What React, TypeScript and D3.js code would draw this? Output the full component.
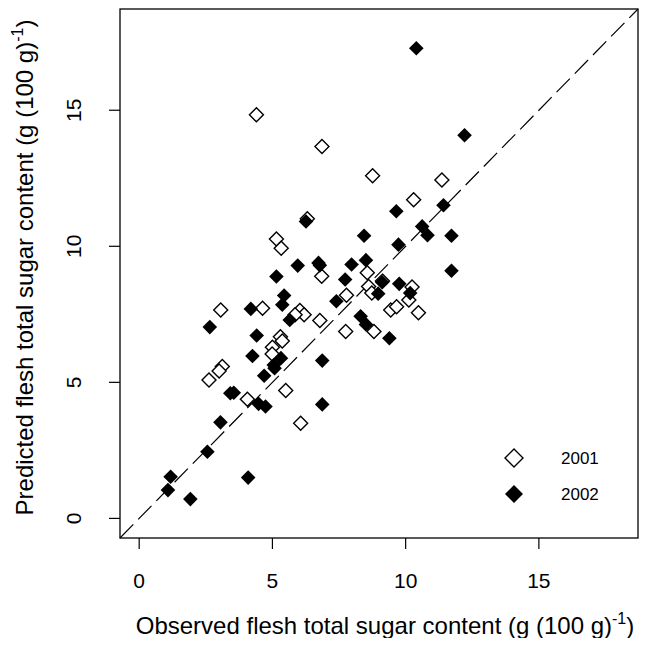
import * as d3 from 'd3'

const obs2001 = [4.4, 6.86, 8.76, 11.36, 10.3, 6.31, 5.15, 5.33, 8.56, 6.85, 8.61, 9.13, 10.24, 10.12, 8.73, 7.78, 3.06, 4.63, 6.03, 6.19, 5.85, 6.78, 9.44, 9.66, 10.48, 8.81, 7.75, 5.3, 5.37, 5.0, 4.99, 3.12, 3.0, 2.62, 5.5, 4.06, 6.06]
const pred2001 = [14.83, 13.67, 12.59, 12.44, 11.71, 11.01, 10.27, 9.93, 9.03, 8.9, 8.52, 8.72, 8.5, 8.03, 8.28, 8.2, 7.66, 7.72, 7.64, 7.48, 7.48, 7.27, 7.66, 7.78, 7.56, 6.87, 6.87, 6.68, 6.52, 6.29, 6.04, 5.58, 5.42, 5.09, 4.7, 4.38, 3.5]

const obs2002 = [10.4, 12.21, 6.26, 8.44, 9.65, 11.42, 10.62, 10.82, 11.72, 9.73, 5.95, 6.73, 6.78, 7.97, 8.51, 5.15, 7.73, 9.12, 9.76, 10.17, 8.97, 11.72, 4.19, 5.44, 5.37, 7.4, 5.65, 8.31, 8.51, 9.39, 2.65, 4.41, 5.32, 4.25, 5.05, 5.08, 6.87, 4.69, 3.42, 3.55, 4.48, 4.74, 6.87, 3.05, 2.56, 1.18, 1.08, 1.92, 4.09]
const pred2002 = [17.28, 14.08, 10.91, 10.39, 11.29, 11.51, 10.73, 10.41, 10.39, 10.06, 9.29, 9.39, 9.3, 9.33, 9.49, 8.89, 8.78, 8.68, 8.62, 8.28, 8.26, 9.1, 7.7, 8.19, 7.85, 7.98, 7.29, 7.43, 7.13, 6.62, 7.03, 6.72, 5.89, 5.97, 5.64, 5.52, 5.8, 5.24, 4.6, 4.62, 4.21, 4.11, 4.19, 3.53, 2.45, 1.53, 1.04, 0.71, 1.5]

const ticks = [0, 5, 10, 15]
const years = ['2001', '2002']

const W = 654
const H = 646
const left = 120
const right = 638
const top = 9
const bottom = 538
const font = 'Liberation Sans, Arial, Helvetica, sans-serif'

const lim: [number, number] = [-0.72, 18.72]

const diamond = (cx: number, cy: number, r: number) =>
  `M${cx},${cy - r}L${cx + r},${cy}L${cx},${cy + r}L${cx - r},${cy}Z`

export default function App() {
  const x = d3.scaleLinear().domain(lim).range([left, right])
  const y = d3.scaleLinear().domain(lim).range([bottom, top])

  const line = d3
    .line<number>()
    .x((d) => x(d))
    .y((d) => y(d))

  return (
    <svg width={W} height={H} style={{ display: 'block', margin: '-8px' }} fontFamily={font}>
      <rect width={W} height={H} fill="white" />

      {/* 1:1 line */}
      <path d={line(lim) ?? ''} stroke="black" strokeWidth={1.2} strokeDasharray="19 7" fill="none" />

      {obs2001.map((d, i) => (
        <path key={'a' + i} d={diamond(x(d), y(pred2001[i]), 7)} fill="white" stroke="black" strokeWidth={1.4} />
      ))}
      {obs2002.map((d, i) => (
        <path key={'b' + i} d={diamond(x(d), y(pred2002[i]), 7.3)} fill="black" />
      ))}

      <rect x={left} y={top} width={right - left} height={bottom - top} fill="none" stroke="black" strokeWidth={1.3} />

      {/* x axis */}
      {ticks.map((t) => (
        <g key={'x' + t}>
          <line x1={x(t)} x2={x(t)} y1={bottom} y2={bottom + 11} stroke="black" strokeWidth={1.2} />
          <text x={x(t)} y={588} textAnchor="middle" fontSize={21}>
            {t}
          </text>
        </g>
      ))}
      {/* y axis */}
      {ticks.map((t) => (
        <g key={'y' + t}>
          <line x1={left - 11} x2={left} y1={y(t)} y2={y(t)} stroke="black" strokeWidth={1.2} />
          <text transform={`translate(81,${y(t)}) rotate(-90)`} textAnchor="middle" fontSize={21}>
            {t}
          </text>
        </g>
      ))}

      <text x={(left + right) / 2 + 6} y={634} textAnchor="middle" fontSize={24}>
        Observed flesh total sugar content (g (100 g)
        <tspan dy={-10} fontSize={16}>-1</tspan>
        <tspan dy={10}>)</tspan>
      </text>
      <text transform={`translate(33,${(top + bottom) / 2 - 6}) rotate(-90)`} textAnchor="middle" fontSize={24}>
        Predicted flesh total sugar content (g (100 g)
        <tspan dy={-10} fontSize={16}>-1</tspan>
        <tspan dy={10}>)</tspan>
      </text>

      {/* legend */}
      {years.map((yr, i) => (
        <g key={yr}>
          <path
            d={diamond(514, 458 + i * 36, 9)}
            fill={i === 0 ? 'white' : 'black'}
            stroke="black"
            strokeWidth={i === 0 ? 1.4 : 0}
          />
          <text x={561} y={458 + i * 36 + 6} fontSize={17}>
            {yr}
          </text>
        </g>
      ))}
    </svg>
  )
}
